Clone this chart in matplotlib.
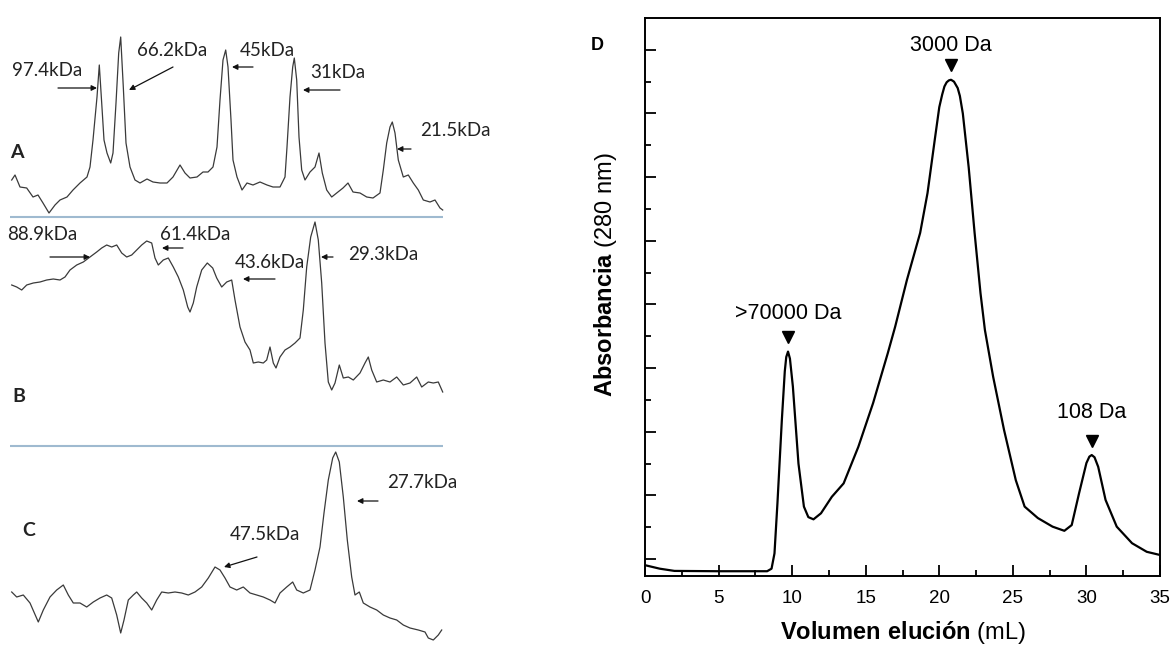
import numpy as np
import matplotlib
matplotlib.use('Agg')
import matplotlib.pyplot as plt

plt.rcParams['mathtext.fontset'] = 'custom'
plt.rcParams['mathtext.rm'] = 'Liberation Sans'
plt.rcParams['mathtext.bf'] = 'Liberation Sans:bold'

# --- densitometry traces (lane position, band intensity above the lane base) ---
pos_a = [11.7, 15, 20, 26.7, 33, 38, 43, 49, 55, 60, 67, 73, 80, 87, 90, 93, 97, 99.3, 101.7, 104,
         107, 110.7, 113, 116, 118.7, 120.7, 123.3, 126, 130, 135, 140, 147, 153, 160, 167, 173, 180, 185, 190, 197,
         203, 208, 213, 217, 220, 223, 225.7, 228, 231, 233, 237, 242, 247, 253, 260, 267, 273, 280, 285, 287,
         290, 292.7, 294.3, 296.7, 299, 301.7, 305, 310, 315, 319, 322.3, 326.7, 331.7, 336.7, 343, 348, 353, 360, 366.7, 373,
         380, 383.3, 386.7, 390, 392.3, 395, 398.3, 403.3, 408.3, 413.3, 418.3, 423.3, 430, 435, 440, 442.7]
int_a = [37, 42, 30, 29, 20, 22, 14, 4, 12, 17, 20, 27, 34, 40, 50, 77, 120, 152, 114, 77,
         64, 54, 64, 114, 164, 180, 130, 74, 50, 37, 34, 38, 35, 34, 34, 40, 52, 44, 39, 40,
         45, 45, 50, 70, 117, 157, 167, 150, 97, 57, 40, 27, 34, 32, 35, 32, 30, 30, 40, 70,
         120, 150, 159, 137, 80, 47, 37, 45, 50, 64, 44, 27, 20, 24, 29, 34, 25, 24, 20, 19,
         24, 47, 74, 90, 95, 84, 57, 40, 42, 34, 27, 17, 15, 17, 9, 7]

pos_b = [11.7, 16.7, 21.7, 26.7, 33.3, 40, 46.7, 53.3, 60, 65,
         70, 76.7, 83.3, 90, 96.7, 101.7, 106.7, 111.7, 116.7, 121.7,
         126.7, 131.7, 136.7, 141.7, 146.7, 151.7, 155, 158.3, 163.3, 168.3,
         173.3, 178.3, 183.3, 187.7, 190, 193.3, 196.7, 201.7, 207.3, 212.7,
         216.7, 221.7, 226.7, 231.7, 235, 240, 245, 250, 253.3, 258.3,
         263.3, 266.7, 270, 273.3, 276, 280, 285, 290, 295, 300,
         303.3, 306.7, 310.7, 315, 318.3, 321.7, 325, 328.3, 331.7, 335,
         339.3, 343.3, 348.3, 353.3, 360, 365, 368.3, 371.7, 376.7, 383.3,
         390, 396.7, 403.3, 410, 416.7, 421.7, 428.3, 433.3, 438.3, 442.7]
int_b = [161, 159, 156, 161, 163, 164, 166, 167, 166, 169,
         176, 181, 184, 189, 194, 198, 201, 199, 201, 193,
         189, 191, 196, 201, 205, 203, 188, 181, 186, 188,
         179, 169, 156, 139, 134, 143, 159, 176, 183, 178,
         168, 159, 164, 166, 146, 119, 104, 96, 83, 84,
         83, 86, 99, 83, 78, 89, 96, 99, 103, 108,
         136, 179, 209, 224, 206, 163, 103, 64, 56, 63,
         81, 68, 69, 66, 73, 83, 89, 76, 64, 66,
         64, 69, 61, 63, 69, 59, 64, 63, 64, 54]

pos_c = [11.7, 16.7, 23.3, 30, 38.3, 43.3, 50, 56.7, 63.3, 68.3,
         73.3, 80, 86.7, 93.3, 100, 106.7, 111.7, 116.7, 120.7, 124,
         128.3, 133.3, 136.7, 141.7, 146.7, 151.7, 156.7, 161.7, 168.3, 175,
         181.7, 188.3, 195, 201.7, 208.3, 215, 220, 225, 230, 236.7,
         243.3, 250, 256.7, 263.3, 270, 275, 280, 286.7, 292.7, 296.7,
         303.3, 310, 315, 320, 324, 328.3, 332.7, 335.7, 339.3, 343.3,
         347.3, 351.7, 355, 359.3, 363.3, 370, 376.7, 383.3, 390, 396.7,
         403.3, 410, 418.3, 425, 428.3, 433.3, 438.3, 441.7]
int_c = [54, 49, 51, 43, 24, 36, 49, 56, 61, 51,
         43, 43, 39, 44, 48, 51, 48, 31, 13, 26,
         46, 51, 54, 48, 43, 36, 46, 54, 53, 54,
         53, 51, 54, 59, 68, 79, 76, 68, 59, 56,
         59, 53, 51, 49, 46, 43, 53, 59, 64, 56,
         53, 56, 76, 99, 133, 166, 188, 194, 184, 149,
         106, 69, 51, 54, 43, 39, 36, 31, 28, 26,
         21, 18, 16, 14, 8, 6, 11, 16]

labels_a = ['97.4kDa', '66.2kDa', '45kDa', '31kDa', '21.5kDa']
labels_b = ['88.9kDa', '61.4kDa', '43.6kDa', '29.3kDa']
labels_c = ['47.5kDa', '27.7kDa']

# --- gel filtration chromatogram ---
vol = [0, 1, 2, 5, 8.3, 8.6, 8.8, 9.0, 9.3, 9.5, 9.6, 9.72, 9.85, 10.05, 10.43, 10.8, 11.1, 11.45, 11.96,
       12.7, 13.5, 14.5, 15.5, 16.5, 17.0, 17.8, 18.7, 19.2, 19.7, 20.0, 20.2, 20.35, 20.5, 20.65, 20.8,
       21.0, 21.25, 21.4, 21.6, 22.0, 22.4, 22.8, 23.1, 23.66, 24.4, 25.2, 25.8, 26.7, 27.7, 28.5, 29.0,
       29.5, 30.0, 30.2, 30.36, 30.55, 30.8, 31.3, 32.06, 33.1, 34.1, 35]
absorb = [-0.19, -0.30, -0.37, -0.38, -0.38, -0.30, 0.18, 1.75, 4.37, 5.9, 6.35, 6.52, 6.3, 5.42, 3.0, 1.65, 1.32,
          1.25, 1.44, 1.96, 2.38, 3.53, 4.9, 6.47, 7.3, 8.77, 10.25, 11.5, 13.2, 14.2, 14.6, 14.85, 14.98,
          15.04, 15.06, 15.0, 14.8, 14.55, 14.0, 12.3, 10.25, 8.36, 7.2, 5.73, 4.06, 2.48, 1.65, 1.29, 1.02,
          0.89, 1.07, 2.07, 3.02, 3.22, 3.27, 3.2, 2.9, 1.86, 1.02, 0.5, 0.23, 0.13]
peak_names = ['>70000 Da', '3000 Da', '108 Da']
peak_vol = [9.75, 20.8, 30.35]
peak_abs = [6.52, 15.06, 3.27]
label_abs = [7.72, 16.15, 4.6]

W, H = 1171, 646
fig = plt.figure(figsize=(W / 100, H / 100), dpi=100)

# ---------------- left: densitometry A, B, C ----------------
axl = fig.add_axes([0, 0, 450 / W, 1])
axl.set_xlim(0, 450)
axl.set_ylim(H, 0)
axl.axis('off')

trace_col = '#3a3a3a'
sep_col = '#9fbad0'
base_a, base_b, base_c = 217, 446, 646
axl.plot(pos_a, base_a - np.array(int_a), color=trace_col, lw=0.9)
axl.plot(pos_b, base_b - np.array(int_b), color=trace_col, lw=0.9)
axl.plot(pos_c, base_c - np.array(int_c), color=trace_col, lw=0.9)
axl.hlines([base_a, base_b], 10, 443, color=sep_col, lw=1.5)

txt_kw = dict(family=['Lato', 'DejaVu Sans'], fontsize=13.5, color='#222222', va='center', ha='left')
arr = dict(arrowstyle='-|>', lw=0.9, color='#111111', mutation_scale=8, shrinkA=0, shrinkB=0)

text_xy = [(12, 70), (137, 50), (240, 51), (310, 72), (420, 130),
           (7, 235), (160, 235), (235, 262), (348, 255),
           (230, 535), (387, 483)]
arrow_tail = [(58, 88), (173, 67), (253, 67), (340, 90), (411, 149),
              (50, 257), (183, 248), (275, 279), (333, 257),
              (257, 557), (378, 501)]
arrow_head = [(97, 88), (129, 90), (232, 67), (303, 90), (397, 149),
              (90, 257), (162, 248), (243, 279), (321, 257),
              (224, 567), (357, 501)]
for lab, t, a, b in zip(labels_a + labels_b + labels_c, text_xy, arrow_tail, arrow_head):
    axl.text(t[0], t[1], lab, **txt_kw)
    axl.annotate('', xy=b, xytext=a, arrowprops=arr)

for lab, (x, y) in zip(['A', 'B', 'C'], [(10, 153), (12, 396), (22, 530)]):
    axl.text(x, y, lab, family=['Lato', 'DejaVu Sans'], fontsize=14, fontweight='bold',
             color='#222222', va='center', ha='left')

# ---------------- right: chromatogram D ----------------
ax = fig.add_axes([645 / W, 1 - 576 / H, 515 / W, 558 / H])
sans = 'Liberation Sans'
ax.plot(vol, absorb, color='black', lw=1.6)
ax.set_xlim(0, 35)
ax.set_ylim(-0.53, 17.0)
ax.set_xticks(np.arange(0, 36, 5))
ax.set_xticks(np.arange(2.5, 35, 5), minor=True)
ax.set_yticks(np.arange(0, 17, 2))
ax.set_yticks(np.arange(1, 17, 2), minor=True)
ax.set_yticklabels([])
ax.tick_params(which='both', direction='in', width=1.3, top=False, right=False)
ax.tick_params(which='major', length=8, labelsize=13.5, pad=10)
ax.tick_params(which='minor', length=4)
for lbl in ax.get_xticklabels():
    lbl.set_family(sans)
for sp in ax.spines.values():
    sp.set_linewidth(1.4)

for name, x, y, ly in zip(peak_names, peak_vol, peak_abs, label_abs):
    ax.plot(x, y + 0.45, marker='v', color='black', ms=8, mec='black')
    ax.text(x, ly, name, family=sans, fontsize=15.5, ha='center', va='center')

ax.set_xlabel(r'$\mathbf{Volumen\ elución}$ (mL)', family=sans, fontsize=17, labelpad=9)
ax.set_ylabel(r'$\mathbf{Absorbancia}$ (280 nm)', family=sans, fontsize=17, labelpad=8)
ax.yaxis.set_label_coords(-0.05, 0.54)
fig.text(597 / W, 1 - 45 / H, 'D', fontsize=13, fontweight='bold', family=sans,
         ha='center', va='center')

fig.savefig('out.png', dpi=100)
